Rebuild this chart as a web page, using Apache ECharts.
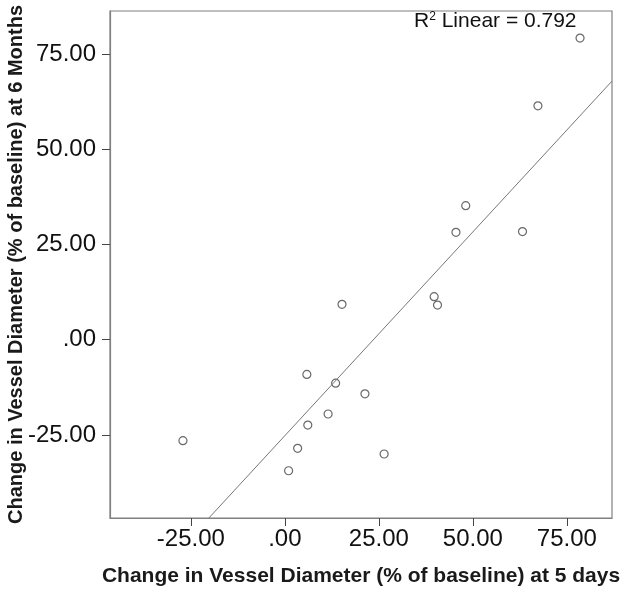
<!DOCTYPE html>
<html>
<head>
<meta charset="utf-8">
<script src="https://cdn.jsdelivr.net/npm/echarts@6/dist/echarts.min.js"></script>
<style>
  html, body { margin: 0; padding: 0; background: #fff; }
  #chart { width: 624px; height: 594px; }
</style>
</head>
<body>
<div id="chart"></div>
<script>
// valori
var giorni5 = [78.5, 67.3, 48.1, 45.5, 63.2, 39.7, 40.6, 15.2, -27.1, 5.85, 13.5, 21.3, 11.5, 6.1, 3.4, 26.4, 1.0];
var mesi6 = [79.2, 61.4, 35.2, 28.2, 28.4, 11.3, 9.1, 9.3, -26.5, -9.1, -11.4, -14.2, -19.5, -22.4, -28.5, -30.0, -34.4];
// retta di regressione (estremi)
var rettaX = [-20.2, 87];
var rettaY = [-46.8, 67.9];
var tickValori = [-25, 0, 25, 50, 75];
var r2 = '0.792';

var punti = giorni5.map(function (x, i) { return [x, mesi6[i]]; });
var retta = rettaX.map(function (x, i) { return [x, rettaY[i]]; });

function formatta(v) {
  if (v === 0) return '.00';
  return v.toFixed(2);
}

var font = "'Liberation Sans', Arial, sans-serif";
var grafico = echarts.init(document.getElementById('chart'));
var option = {
  backgroundColor: '#fff',
  animation: false,
  textStyle: { fontFamily: font },
  grid: {
    left: 110, right: 12, top: 11, bottom: 76,
    outerBoundsMode: 'none',
    show: true, borderColor: '#808080', borderWidth: 1.2
  },
  graphic: [{
    type: 'text', left: 414, top: 11,
    style: {
      text: '{a|R}{s|2}{a| Linear = ' + r2 + '}',
      rich: {
        a: { fontSize: 21, fontFamily: font, fill: '#111' },
        s: { fontSize: 12, fontFamily: font, fill: '#111', verticalAlign: 'top', padding: [0, 0, 8, 0] }
      }
    }
  }],
  xAxis: {
    type: 'value', min: -46.5, max: 87,
    name: 'Change in Vessel Diameter (% of baseline) at 5 days',
    nameLocation: 'middle', nameGap: 48, nameMoveOverlap: false,
    nameTextStyle: { fontSize: 21, fontWeight: 'bold', color: '#1a1a1a', fontFamily: font },
    axisLine: { show: true, onZero: false, lineStyle: { color: '#808080', width: 1.2 } },
    axisTick: { show: true, length: 8, customValues: tickValori, lineStyle: { color: '#444' } },
    axisLabel: { customValues: tickValori, formatter: formatta, fontSize: 24, color: '#111', margin: 9 },
    splitLine: { show: false }
  },
  yAxis: {
    type: 'value', min: -46.8, max: 86.3,
    name: 'Change in Vessel Diameter (% of baseline) at 6 Months',
    nameLocation: 'middle', nameGap: 84, nameMoveOverlap: false,
    nameTextStyle: { fontSize: 20, fontWeight: 'bold', color: '#1a1a1a', fontFamily: font },
    axisLine: { show: true, onZero: false, lineStyle: { color: '#808080', width: 1.2 } },
    axisTick: { show: true, length: 8, customValues: tickValori, lineStyle: { color: '#444' } },
    axisLabel: { customValues: tickValori, formatter: formatta, fontSize: 24, color: '#111', margin: 14 },
    splitLine: { show: false }
  },
  series: [
    {
      type: 'line', data: retta, showSymbol: false, symbol: 'none',
      lineStyle: { color: '#777', width: 1 }, silent: true, clip: true
    },
    {
      type: 'scatter', data: punti, symbol: 'circle', symbolSize: 8,
      itemStyle: { color: '#fff', borderColor: '#444', borderWidth: 1.2 }
    }
  ]
};
grafico.setOption(option);
</script>
</body>
</html>
